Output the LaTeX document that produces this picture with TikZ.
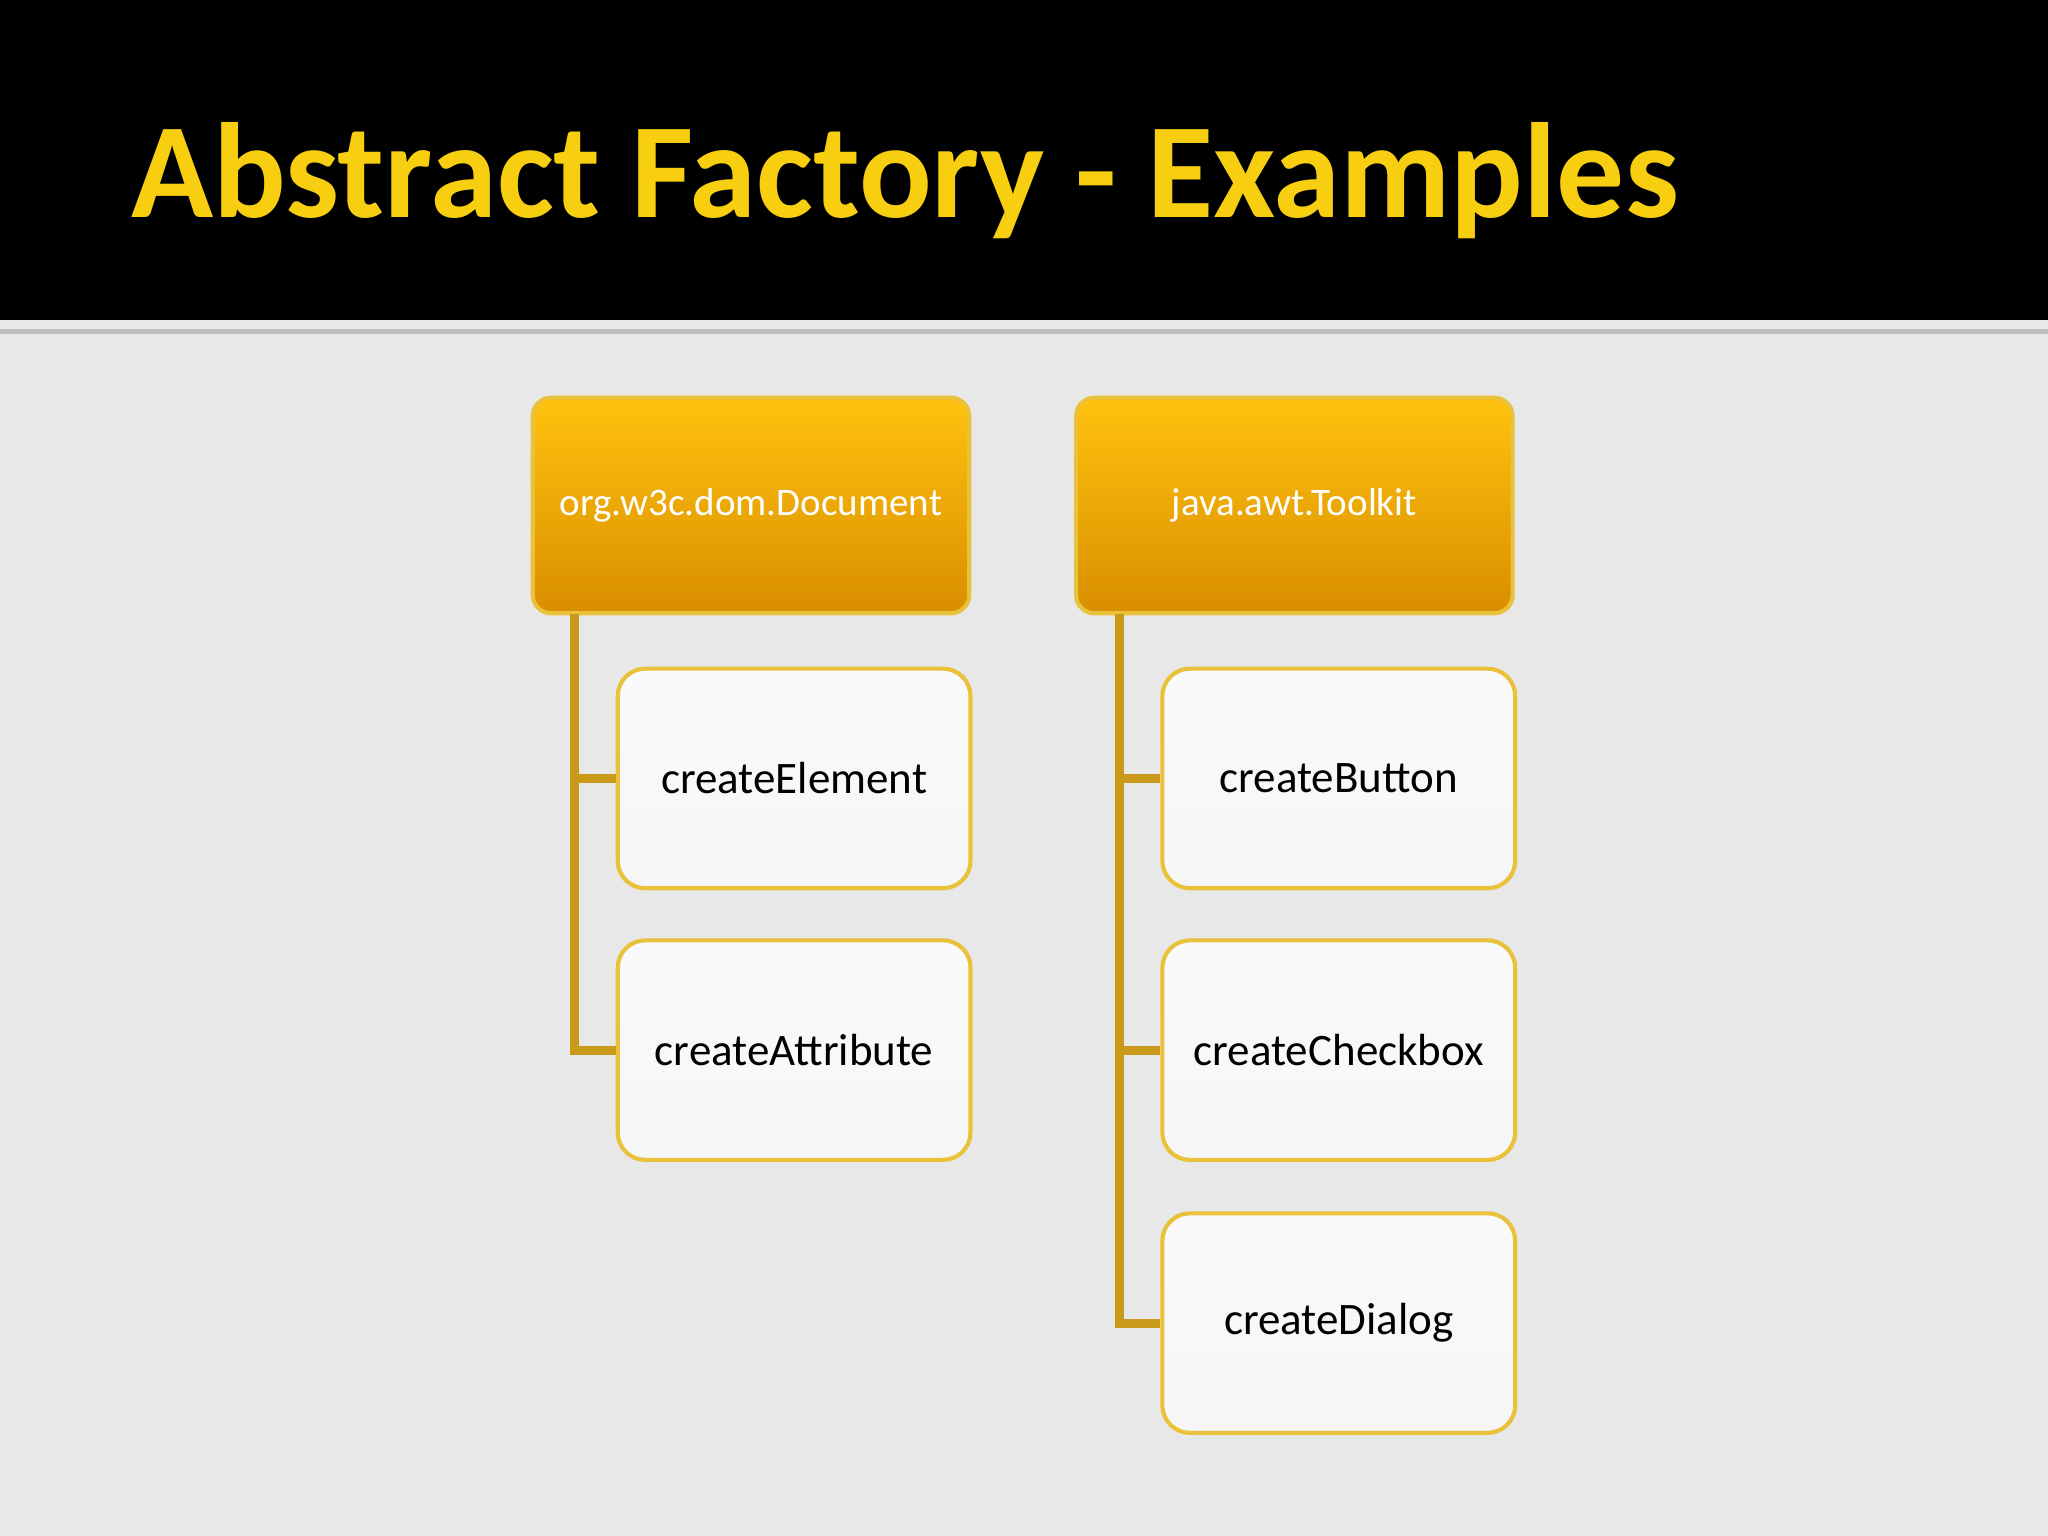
\documentclass[tikz,border=0pt]{standalone}
\usepackage{fontspec}
\setmainfont{Carlito}
\definecolor{gold}{HTML}{F2B400}
\definecolor{goldd}{HTML}{D98E00}
\definecolor{goldl}{HTML}{FFC20E}
\definecolor{edgey}{HTML}{E9C13A}
\definecolor{linec}{HTML}{C99A1A}
\definecolor{titley}{HTML}{F7CF10}
\tikzset{
 parent/.style={draw=edgey,line width=0.9pt,rounded corners=4pt,top color=goldl,bottom color=goldd,minimum width=3.34cm,minimum height=1.65cm,text=white,font=\fontsize{8.5}{10}\selectfont},
 child/.style={draw=edgey,line width=0.9pt,rounded corners=6pt,top color=white!96!gray,bottom color=white!93!gray,minimum width=2.70cm,minimum height=1.68cm,text=black,font=\fontsize{9.8}{12}\selectfont},
 conn/.style={draw=linec,line width=2pt}
}
\begin{document}
\begin{tikzpicture}[x=0.01cm,y=-0.01cm]
\useasboundingbox (0,0) rectangle (1568,1176);
\fill[gray!18] (0,0) rectangle (1568,1176);
\fill[black] (0,0) rectangle (1568,245);
\fill[gray!50] (0,252) rectangle (1568,256);
\node[anchor=west,text=titley,font=\bfseries\fontsize{29.5}{32}\selectfont] (title) at (88,138) {Abstract Factory - Examples};
\node[parent] (p1) at (575,387) {org.w3c.dom.Document};
\node[child] (a1) at (608,596) {createElement};
\node[child] (a2) at (608,804) {createAttribute};
\node[parent] (p2) at (991,387) {java.awt.Toolkit};
\node[child] (b1) at (1025,596) {createButton};
\node[child] (b2) at (1025,804) {createCheckbox};
\node[child] (b3) at (1025,1013) {createDialog};
\coordinate (c1) at (440,470);
\coordinate (c2) at (857,470);
\draw[conn] (c1) |- (a1.west);
\draw[conn] (c1) |- (a2.west);
\draw[conn] (c2) |- (b1.west);
\draw[conn] (c2) |- (b2.west);
\draw[conn] (c2) |- (b3.west);
\end{tikzpicture}
\end{document}
